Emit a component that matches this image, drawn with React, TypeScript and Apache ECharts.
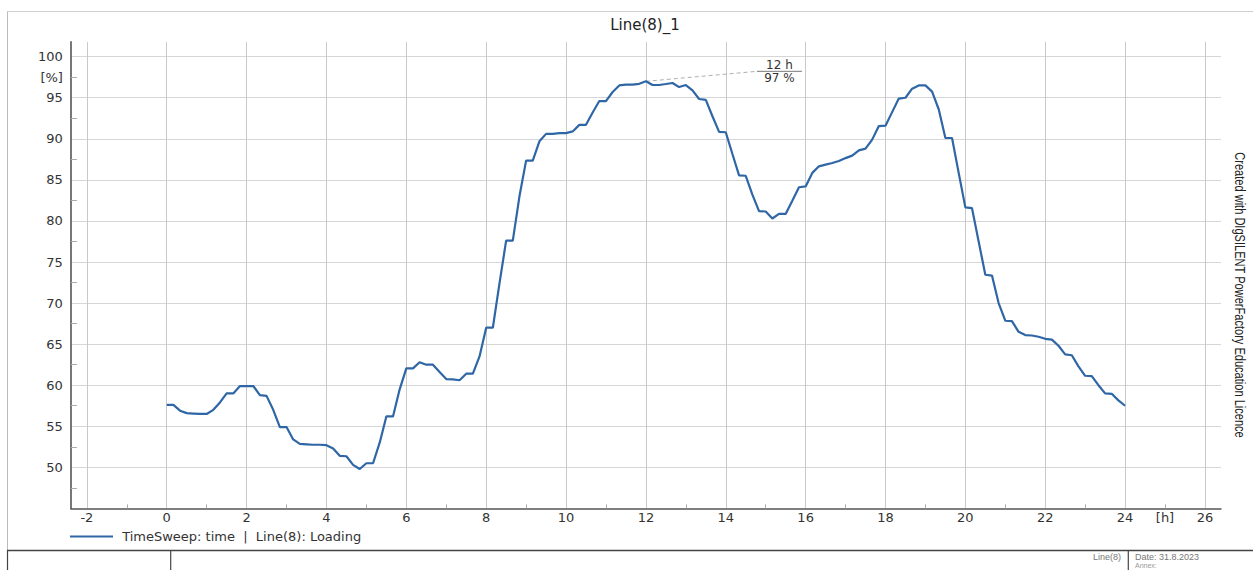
import React, { useEffect, useRef } from "react";
import * as echarts from "echarts";

// Loading of Line(8) [%], time sweep in 10-minute steps from 0 h to 24 h
const loading = [
  57.6, 57.6, 56.9, 56.6, 56.55, 56.5, 56.5, 57.0, 57.9, 59.0, 59.0, 59.9,
  59.9, 59.9, 58.8, 58.7, 57.0, 54.9, 54.9, 53.4, 52.85, 52.8, 52.75, 52.75,
  52.7, 52.3, 51.4, 51.35, 50.3, 49.8, 50.5, 50.5, 53.0, 56.2, 56.2, 59.5,
  62.05, 62.05, 62.8, 62.5, 62.5, 61.6, 60.75, 60.7, 60.6, 61.4, 61.4, 63.5,
  67.0, 67.0, 72.4, 77.6, 77.6, 83.0, 87.35, 87.35, 89.7, 90.6, 90.6, 90.7,
  90.7, 90.9, 91.7, 91.7, 93.2, 94.6, 94.6, 95.7, 96.5, 96.6, 96.6, 96.7,
  97.0, 96.55, 96.55, 96.67, 96.8, 96.3, 96.55, 95.9, 94.85, 94.75, 92.75, 90.85,
  90.8, 88.15, 85.55, 85.5, 83.2, 81.2, 81.15, 80.3, 80.85, 80.85, 82.45, 84.1,
  84.2, 85.85, 86.65, 86.85, 87.05, 87.3, 87.65, 87.95, 88.6, 88.8, 89.9, 91.55,
  91.6, 93.25, 94.9, 95.0, 96.1, 96.5, 96.5, 95.75, 93.6, 90.1, 90.1, 85.85,
  81.65, 81.55, 77.5, 73.45, 73.35, 70.0, 67.85, 67.8, 66.5, 66.1, 66.05, 65.9,
  65.65, 65.55, 64.8, 63.75, 63.65, 62.3, 61.15, 61.1, 60.0, 59.0, 58.95, 58.15,
  57.5,
];
const STEP_HOURS = 1 / 6;
const hours = loading.map((_, i) => +(i * STEP_HOURS).toFixed(4));

const xMajorTicks = [-2, 0, 2, 4, 6, 8, 10, 12, 14, 16, 18, 20, 22, 24, 26];
const xLabelValues = [-2, 0, 2, 4, 6, 8, 10, 12, 14, 16, 18, 20, 22, 24, 25, 26];
const xMinorTicks = [-1, 1, 3, 5, 7, 9, 11, 13, 15, 17, 19, 21, 23, 25];
const yMajorTicks = [50, 55, 60, 65, 70, 75, 80, 85, 90, 95, 100];
const yLabelValues = [50, 55, 60, 65, 70, 75, 80, 85, 90, 95, 97.5, 100];
const yMinorTicks = [47.5, 52.5, 57.5, 62.5, 67.5, 72.5, 77.5, 82.5, 87.5, 92.5, 97.5];
const X_UNIT_AT = 25;
const Y_UNIT_AT = 97.5;

const X_MIN = -2.4;
const X_MAX = 26.4;
const Y_MIN = 45;
const Y_MAX = 101.8;

const SERIES_NAME = "TimeSweep: time\u00a0\u00a0|\u00a0\u00a0Line(8): Loading";
const TITLE = "Line(8)_1";
const SIDE_TEXT = "Created with DIgSILENT PowerFactory Education Licence";
const FONT = "DejaVu Sans";
const LINE_COLOR = "#2f66a5";

export default function App() {
  const ref = useRef<HTMLDivElement>(null);

  useEffect(() => {
    if (!ref.current) return;
    const chart = echarts.init(ref.current, undefined, { renderer: "svg" });

    const data = hours.map((h, i) => [h, loading[i]]);

    chart.setOption({
      animation: false,
      backgroundColor: "#ffffff",
      title: {
        text: TITLE,
        left: 645,
        top: 17,
        padding: 0,
        textAlign: "center",
        textStyle: { fontFamily: FONT, fontSize: 15, fontWeight: "normal", color: "#222" },
      },
      legend: {
        show: true,
        left: 70,
        top: 530,
        padding: 0,
        icon: "rect",
        itemWidth: 43,
        itemHeight: 2,
        data: [SERIES_NAME],
        textStyle: { fontFamily: FONT, fontSize: 13, color: "#333" },
        formatter: (n: string) => "\u00a0" + n,
      },
      grid: { left: 70.9, right: 32.1, top: 41.9, bottom: 61.6 },
      xAxis: [
        {
          type: "value",
          min: X_MIN,
          max: X_MAX,
          position: "bottom",
          axisLine: { show: true, onZero: false, lineStyle: { color: "#555", width: 1.6 } },
          axisTick: { show: false, customValues: xMajorTicks },
          axisLabel: {
            customValues: xLabelValues,
            formatter: (v: number) => (v === X_UNIT_AT ? "[h]" : String(v)),
            color: "#333",
            fontFamily: FONT,
            fontSize: 13,
            margin: 3,
          },
          splitLine: { show: true, lineStyle: { color: "#c9c9c9", width: 1 } },
        },
        {
          type: "value",
          min: X_MIN,
          max: X_MAX,
          position: "bottom",
          axisLine: { show: false, onZero: false },
          axisTick: { show: true, inside: true, length: 4, customValues: xMinorTicks, lineStyle: { color: "#aaa" } },
          axisLabel: { show: false },
          splitLine: { show: false },
        },
      ],
      yAxis: [
        {
          type: "value",
          min: Y_MIN,
          max: Y_MAX,
          position: "left",
          axisLine: { show: true, onZero: false, lineStyle: { color: "#555", width: 1.6 } },
          axisTick: { show: false, customValues: yMajorTicks },
          axisLabel: {
            customValues: yLabelValues,
            formatter: (v: number) => (v === Y_UNIT_AT ? "[%]" : String(v)),
            color: "#333",
            fontFamily: FONT,
            fontSize: 13,
            margin: 8,
          },
          splitLine: { show: true, lineStyle: { color: "#d6d6d6", width: 1 } },
        },
        {
          type: "value",
          min: Y_MIN,
          max: Y_MAX,
          position: "left",
          axisLine: { show: false, onZero: false },
          axisTick: { show: true, inside: true, length: 6, customValues: yMinorTicks, lineStyle: { color: "#aaa" } },
          axisLabel: { show: false },
          splitLine: { show: false },
        },
      ],
      series: [
        {
          type: "line",
          name: SERIES_NAME,
          xAxisIndex: 0,
          yAxisIndex: 0,
          data,
          symbol: "none",
          smooth: false,
          lineStyle: { color: LINE_COLOR, width: 2.2 },
          itemStyle: { color: LINE_COLOR },
        },
      ],
    });

    // annotation at the maximum
    let peakIdx = 0;
    loading.forEach((v, i) => {
      if (v > loading[peakIdx]) peakIdx = i;
    });
    const p = chart.convertToPixel({ seriesIndex: 0 }, [hours[peakIdx], loading[peakIdx]]) as number[];
    const lx = p[0] + 111;
    const ly = p[1] - 10;

    chart.setOption({
      graphic: [
        // outer frame
        { type: "line", shape: { x1: 7.5, y1: 11.5, x2: 1253, y2: 11.5 }, style: { stroke: "#d0d0d0", lineWidth: 1 } },
        { type: "line", shape: { x1: 7.5, y1: 11.5, x2: 7.5, y2: 570 }, style: { stroke: "#bbbbbb", lineWidth: 1 } },
        // info table
        { type: "line", shape: { x1: 7, y1: 550.5, x2: 1253, y2: 550.5 }, style: { stroke: "#444", lineWidth: 1.5 } },
        { type: "line", shape: { x1: 7.5, y1: 550, x2: 7.5, y2: 570 }, style: { stroke: "#444", lineWidth: 1.2 } },
        { type: "line", shape: { x1: 170.7, y1: 550, x2: 170.7, y2: 570 }, style: { stroke: "#444", lineWidth: 1.2 } },
        { type: "line", shape: { x1: 1128.3, y1: 550, x2: 1128.3, y2: 570 }, style: { stroke: "#444", lineWidth: 1.2 } },
        {
          type: "text",
          x: 1121,
          y: 557,
          style: { text: "Line(8)", fontFamily: "Liberation Sans", fontSize: 9, fill: "#777", align: "right", verticalAlign: "middle" },
        },
        {
          type: "text",
          x: 1135,
          y: 557,
          style: { text: "Date: 31.8.2023", fontFamily: "Liberation Sans", fontSize: 9, fill: "#777", align: "left", verticalAlign: "middle" },
        },
        {
          type: "text",
          x: 1135,
          y: 562,
          style: { text: "Annex:", fontFamily: "Liberation Sans", fontSize: 7, fill: "#999", align: "left", verticalAlign: "top" },
        },
        // side text
        {
          type: "text",
          x: 1239,
          y: 295,
          rotation: -Math.PI / 2,
          scaleX: 0.79,
          style: {
            text: SIDE_TEXT,
            fontFamily: "Liberation Sans",
            fontSize: 14,
            fill: "#222",
            align: "center",
            verticalAlign: "middle",
          },
        },
        // peak annotation
        {
          type: "line",
          shape: { x1: p[0], y1: p[1], x2: lx, y2: ly },
          style: { stroke: "#999", lineWidth: 0.8, lineDash: [4, 3] },
        },
        { type: "line", shape: { x1: lx, y1: ly, x2: lx + 45, y2: ly }, style: { stroke: "#777", lineWidth: 1 } },
        {
          type: "text",
          x: lx + 22.5,
          y: ly - 6.5,
          style: {
            text: `${Math.round(hours[peakIdx])} h`,
            fontFamily: FONT,
            fontSize: 12,
            fill: "#333",
            align: "center",
            verticalAlign: "middle",
          },
        },
        {
          type: "text",
          x: lx + 22.5,
          y: ly + 6.5,
          style: {
            text: `${Math.round(loading[peakIdx])} %`,
            fontFamily: FONT,
            fontSize: 12,
            fill: "#333",
            align: "center",
            verticalAlign: "middle",
          },
        },
      ],
    });

    return () => chart.dispose();
  }, []);

  return (
    <div
      ref={ref}
      style={{ position: "absolute", left: 0, top: 0, width: 1253, height: 570 }}
    />
  );
}
